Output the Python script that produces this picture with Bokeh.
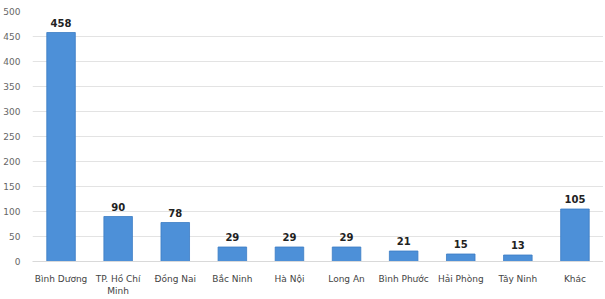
from bokeh.plotting import figure
from bokeh.models import ColumnDataSource, Range1d, FactorRange, LabelSet
from bokeh.embed import file_html
from bokeh.resources import INLINE
from bokeh.core.properties import value

provinces = ["Bình Dương", "TP. Hồ Chí\nMinh", "Đồng Nai", "Bắc Ninh", "Hà Nội",
             "Long An", "Bình Phước", "Hải Phòng", "Tây Ninh", "Khác"]
counts = [458, 90, 78, 29, 29, 29, 21, 15, 13, 105]
y_ticks = [0, 50, 100, 150, 200, 250, 300, 350, 400, 450, 500]

src = ColumnDataSource(dict(x=provinces, y=counts, lab=[str(c) for c in counts]))

xr = FactorRange(*provinces, range_padding=0)
try:
    xr.start = 0.0
    xr.end = 9.78
except Exception:
    pass

p = figure(width=603, height=298, x_range=xr,
           y_range=Range1d(0, 500), output_backend="svg", toolbar_location=None,
           min_border_left=9, min_border_right=0, min_border_top=11, min_border_bottom=0)

p.vbar(x="x", top="y", width=0.5, source=src, fill_color="#4d90d8",
       line_color="#3b7cc4", line_width=0.8)

labels = LabelSet(x="x", y="y", text="lab", source=src, text_align="center",
                  text_baseline="bottom", y_offset=6, text_font=value("DejaVu Sans"),
                  text_font_size="10px", text_font_style="bold", text_color="#222222")
p.add_layout(labels)

p.yaxis.ticker = y_ticks
p.yaxis.axis_line_color = None
p.yaxis.major_tick_line_color = None
p.yaxis.minor_tick_line_color = None
p.yaxis.major_label_text_font = "DejaVu Sans"
p.yaxis.major_label_text_font_size = "9px"
p.yaxis.major_label_text_color = "#666666"
p.yaxis.major_label_standoff = 6

p.xaxis.axis_line_color = "#d9d9d9"
p.xaxis.major_tick_line_color = None
p.xaxis.minor_tick_line_color = None
p.xaxis.major_label_text_font = "DejaVu Sans"
p.xaxis.major_label_text_font_size = "9px"
p.xaxis.major_label_text_color = "#444444"
p.xaxis.major_label_standoff = 6

p.xgrid.grid_line_color = None
p.ygrid.grid_line_color = "#e3e3e3"
p.ygrid.grid_line_width = 1
p.outline_line_color = None
p.background_fill_color = "white"
p.border_fill_color = "white"

open("out.html", "w").write(file_html(p, INLINE))
